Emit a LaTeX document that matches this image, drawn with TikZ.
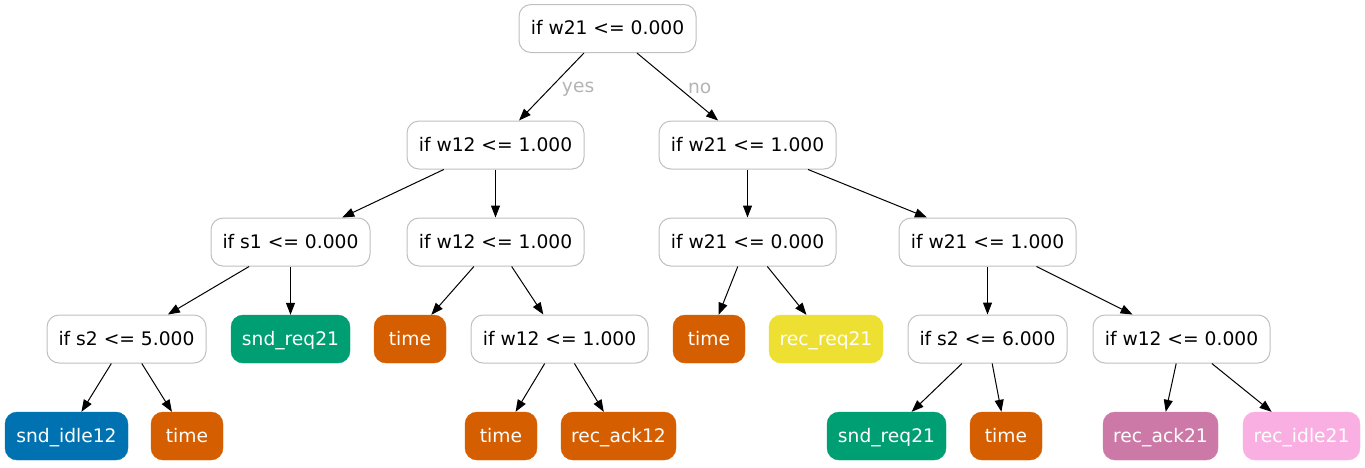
\documentclass[tikz,border=0pt]{standalone}
\usepackage{fontspec}
\setmainfont{DejaVu Sans}
\usetikzlibrary{arrows.meta}
\definecolor{edgegray}{HTML}{C0C0C0}
\definecolor{labgray}{HTML}{B4B4B4}
\definecolor{cblue}{HTML}{0072B2}
\definecolor{cverm}{HTML}{D55E00}
\definecolor{cgreen}{HTML}{009E73}
\definecolor{cyellow}{HTML}{EEE033}
\definecolor{cpurple}{HTML}{CC79A7}
\definecolor{cpink}{HTML}{FAAFE3}
\tikzset{
  base/.style={rectangle, rounded corners=12pt, minimum height=48pt, inner sep=0pt,
    text height=12pt, text depth=0pt,
    font=\fontsize{18.67}{22}\selectfont},
  split/.style={base, draw=edgegray, line width=1pt, fill=white, text=black},
  leaf/.style={base, fill=#1, draw=#1, text=white},
  arr/.style={-{Triangle[length=12pt,width=9pt]}, line width=1pt, black},
  lab/.style={text=labgray, inner sep=0pt, anchor=west, xshift=10pt, yshift=-2pt,
    font=\fontsize{18.67}{22}\selectfont}
}
\begin{document}
\begin{tikzpicture}[x=1pt,y=-1pt]
\useasboundingbox (0,0) rectangle (1365,467);
% level 0
\node[split, minimum width=177pt] (n0) at (607.5,28.5) {if w21 <= 0.000};
% level 1
\node[split, minimum width=177pt] (n1) at (495.5,145) {if w12 <= 1.000};
\node[split, minimum width=177pt] (n2) at (747.5,145) {if w21 <= 1.000};
% level 2
\node[split, minimum width=159pt] (n3) at (290.5,242) {if s1 <= 0.000};
\node[split, minimum width=177pt] (n4) at (495.5,242) {if w12 <= 1.000};
\node[split, minimum width=177pt] (n5) at (747.5,242) {if w21 <= 0.000};
\node[split, minimum width=177pt] (n6) at (987.5,242) {if w21 <= 1.000};
% level 3
\node[split, minimum width=159pt] (n7) at (126.5,339) {if s2 <= 5.000};
\node[leaf=cgreen, minimum width=119pt] (n8) at (290.5,339) {snd\_req21};
\node[leaf=cverm, minimum width=72pt] (n9) at (410,339) {time};
\node[split, minimum width=177pt] (n10) at (559.5,339) {if w12 <= 1.000};
\node[leaf=cverm, minimum width=72pt] (n11) at (709,339) {time};
\node[leaf=cyellow, minimum width=114pt] (n12) at (826,339) {rec\_req21};
\node[split, minimum width=159pt] (n13) at (987.5,339) {if s2 <= 6.000};
\node[split, minimum width=177pt] (n14) at (1181.5,339) {if w12 <= 0.000};
% level 4
\node[leaf=cblue, minimum width=123pt] (l1) at (66.5,436) {snd\_idle12};
\node[leaf=cverm, minimum width=72pt] (l2) at (187,436) {time};
\node[leaf=cverm, minimum width=72pt] (l3) at (501,436) {time};
\node[leaf=cverm, minimum width=115pt] (l4) at (618.5,436) {rec\_ack12};
\node[leaf=cgreen, minimum width=119pt] (l5) at (886.5,436) {snd\_req21};
\node[leaf=cverm, minimum width=72pt] (l6) at (1006,436) {time};
\node[leaf=cpurple, minimum width=115pt] (l7) at (1160.5,436) {rec\_ack21};
\node[leaf=cpink, minimum width=117pt] (l8) at (1301.5,436) {rec\_idle21};
% edges
\draw[arr] (n0) -- node[lab, pos=0.5] {yes} (n1);
\draw[arr] (n0) -- node[lab, pos=0.5] {no} (n2);
\draw[arr] (n1) -- (n3);
\draw[arr] (n1) -- (n4);
\draw[arr] (n2) -- (n5);
\draw[arr] (n2) -- (n6);
\draw[arr] (n3) -- (n7);
\draw[arr] (n3) -- (n8);
\draw[arr] (n4) -- (n9);
\draw[arr] (n4) -- (n10);
\draw[arr] (n5) -- (n11);
\draw[arr] (n5) -- (n12);
\draw[arr] (n6) -- (n13);
\draw[arr] (n6) -- (n14);
\draw[arr] (n7) -- (l1);
\draw[arr] (n7) -- (l2);
\draw[arr] (n10) -- (l3);
\draw[arr] (n10) -- (l4);
\draw[arr] (n13) -- (l5);
\draw[arr] (n13) -- (l6);
\draw[arr] (n14) -- (l7);
\draw[arr] (n14) -- (l8);
\end{tikzpicture}
\end{document}
